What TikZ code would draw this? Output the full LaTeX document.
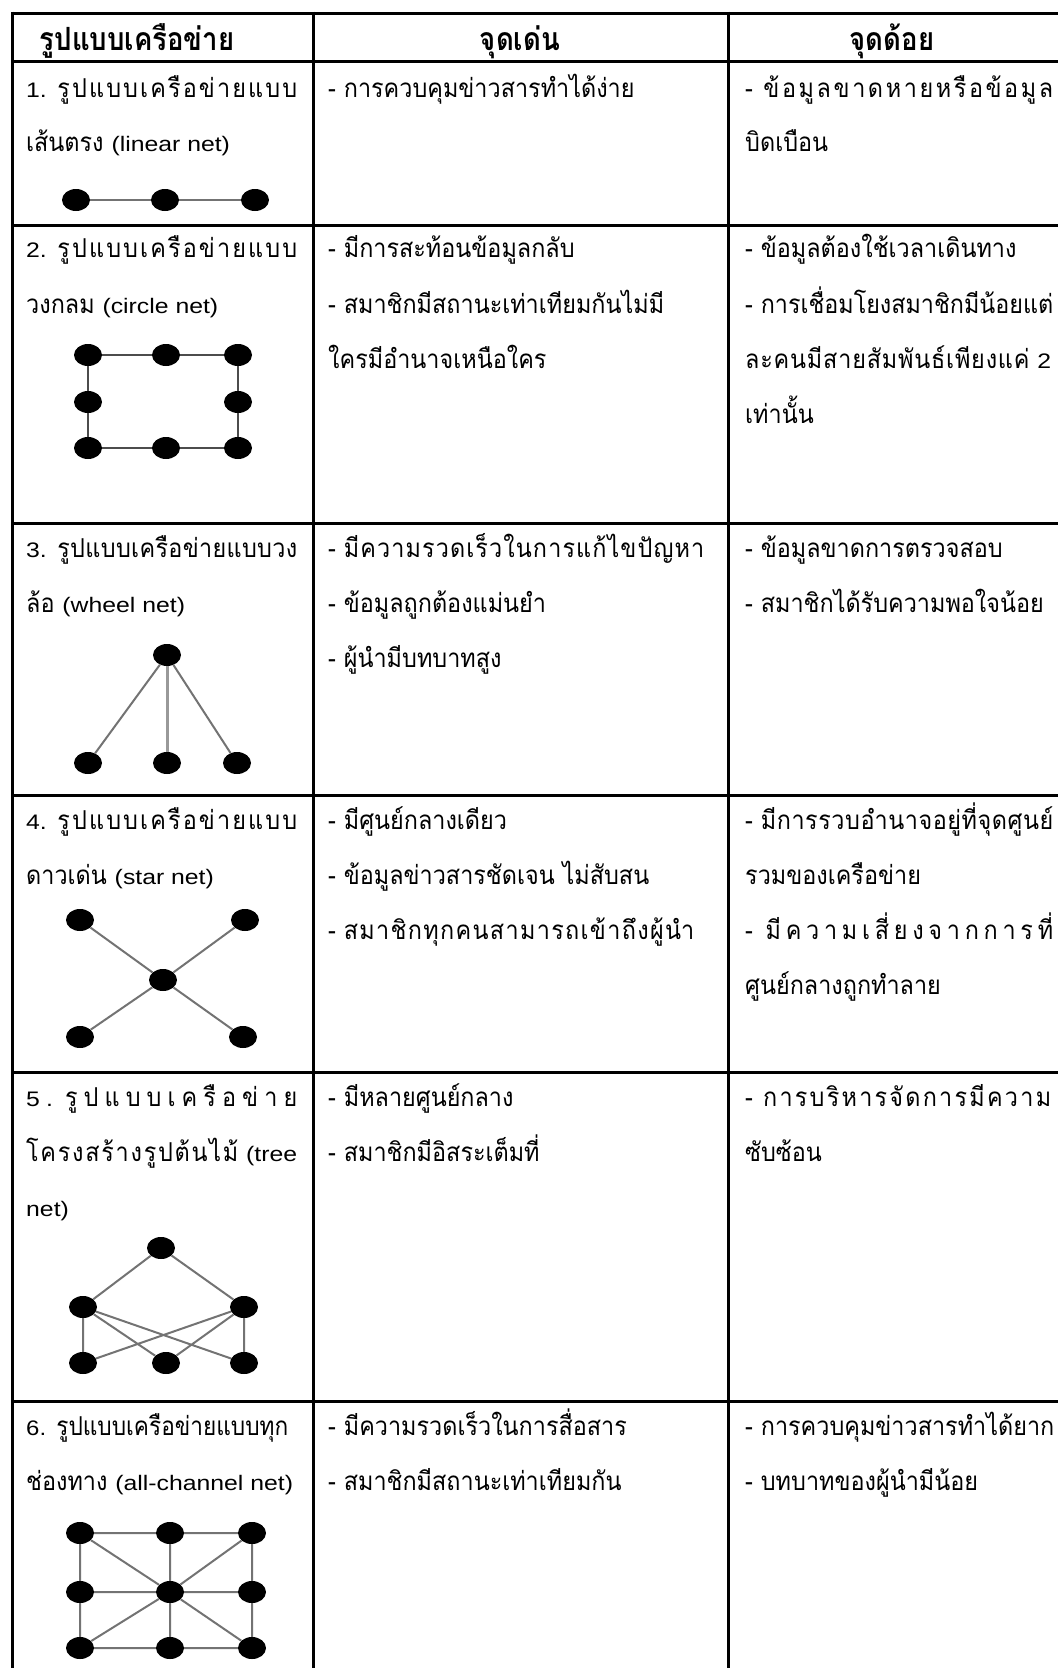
\documentclass[tikz,border=0pt]{standalone}
\usepackage{fontspec}
\usepackage{graphicx}
\usetikzlibrary{shapes.geometric}
\newfontfamily\thai[Script=Thai, FakeStretch=0.9]{Loma}
\newfontfamily\thaihead[Script=Thai, FakeStretch=0.86]{Loma}
\newfontfamily\lat[FakeStretch=1.18]{Liberation Sans}
\newcommand\la[1]{{\lat\fontsize{21}{21}\selectfont #1}}
\newcommand\gp{\hskip 0pt plus 1fil\relax}
% automatic spreading between Thai clusters inside justified boxes
\newXeTeXintercharclass\thbase
\newXeTeXintercharclass\thmark
\newcount\tcnt
\tcnt="0E01
\loop \XeTeXcharclass\tcnt=\thbase \advance\tcnt by 1 \ifnum\tcnt<"0E5C \repeat
\XeTeXcharclass"0E31=\thmark
\XeTeXcharclass"0E33=\thmark
\tcnt="0E34
\loop \XeTeXcharclass\tcnt=\thmark \advance\tcnt by 1 \ifnum\tcnt<"0E3B \repeat
\tcnt="0E47
\loop \XeTeXcharclass\tcnt=\thmark \advance\tcnt by 1 \ifnum\tcnt<"0E4F \repeat
\XeTeXinterchartoks\thbase\thbase={\gp}
\XeTeXinterchartoks\thmark\thbase={\gp}
\newsavebox\jbox
\newcommand\jus[2]{\sbox\jbox{#2}%
  \ifdim\wd\jbox>#1\relax
    \resizebox{#1}{\ht\jbox}{\usebox\jbox}%
  \else
    \makebox[#1][s]{\XeTeXinterchartokenstate=1 #2}%
  \fi}
\tikzset{
  txt/.style={anchor=base west, inner sep=0pt, font=\thai\fontsize{26}{26}\selectfont},
  head/.style={anchor=base, inner sep=0pt, font=\thaihead\bfseries\fontsize{32}{32}\selectfont},
  rule/.style={line width=3pt, black},
  dot/.style={ellipse, fill=black, minimum width=28pt, minimum height=22pt, inner sep=0pt},
  link/.style={draw=black!55, line width=2pt},
}
\begin{document}
\begin{tikzpicture}[x=1pt,y=-1pt]
\useasboundingbox (0,0) rectangle (1058,1668);
% table rules
\draw[rule] (12,13) -- (1058,13);
\draw[rule] (12,61) -- (1058,61);
\foreach \yy in {225,523,795,1072,1401} \draw[rule] (12,\yy) -- (1058,\yy);
\draw[rule] (12,11.5) -- (12,1668);
\draw[rule] (313,11.5) -- (313,1668);
\draw[rule] (728,11.5) -- (728,1668);
% header
\node[head] (h1) at (137,50) {รูปแบบเครือข่าย};
\node[head] (h2) at (520,50) {จุดเด่น};
\node[head] (h3) at (892,50) {จุดด้อย};
% left column
\node[txt] (a1) at (26,97) {\jus{271pt}{\la{1.} รูปแบบเครือข่ายแบบ}};
\node[txt] (a2) at (26,151) {เส้นตรง \la{(linear net)}};
\node[txt] (b1) at (26,257) {\jus{271pt}{\la{2.} รูปแบบเครือข่ายแบบ}};
\node[txt] (b2) at (26,313) {วงกลม \la{(circle net)}};
\node[txt] (c1) at (26,557) {\jus{271pt}{\la{3.} รูปแบบเครือข่ายแบบวง}};
\node[txt] (c2) at (26,612) {ล้อ \la{(wheel net)}};
\node[txt] (d1) at (26,829) {\jus{271pt}{\la{4.} รูปแบบเครือข่ายแบบ}};
\node[txt] (d2) at (26,884) {ดาวเด่น \la{(star net)}};
\node[txt] (e1) at (26,1106) {\jus{271pt}{\la{5}\gp\la{.}\gp\gp รูปแบบเครือข่าย}};
\node[txt] (e2) at (26,1161) {\jus{271pt}{โครงสร้างรูปต้นไม้ \la{(tree}}};
\node[txt] (e3) at (26,1216) {\la{net)}};
\node[txt] (f1) at (26,1435) {\jus{262pt}{\la{6.} รูปแบบเครือข่ายแบบทุก}};
\node[txt] (f2) at (26,1490) {ช่องทาง \la{(all-channel net)}};
% middle column
\node[txt] (m11) at (328,97) {- การควบคุมข่าวสารทำได้ง่าย};
\node[txt] (m21) at (328,257) {- มีการสะท้อนข้อมูลกลับ};
\node[txt] (m22) at (328,313) {- สมาชิกมีสถานะเท่าเทียมกันไม่มี};
\node[txt] (m23) at (328,368) {ใครมีอำนาจเหนือใคร};
\node[txt] (m31) at (328,557) {\jus{376pt}{- มีความรวดเร็วในการแก้ไขปัญหา}};
\node[txt] (m32) at (328,612) {- ข้อมูลถูกต้องแม่นยำ};
\node[txt] (m33) at (328,667) {- ผู้นำมีบทบาทสูง};
\node[txt] (m41) at (328,829) {- มีศูนย์กลางเดียว};
\node[txt] (m42) at (328,884) {- ข้อมูลข่าวสารชัดเจน ไม่สับสน};
\node[txt] (m43) at (328,939) {\jus{366pt}{- สมาชิกทุกคนสามารถเข้าถึงผู้นำ}};
\node[txt] (m51) at (328,1106) {- มีหลายศูนย์กลาง};
\node[txt] (m52) at (328,1161) {- สมาชิกมีอิสระเต็มที่};
\node[txt] (m61) at (328,1435) {- มีความรวดเร็วในการสื่อสาร};
\node[txt] (m62) at (328,1490) {- สมาชิกมีสถานะเท่าเทียมกัน};
% right column
\node[txt] (r11) at (745,97) {\jus{308pt}{-\gp\ ข้อมูลขาดหายหรือข้อมูล}};
\node[txt] (r12) at (745,151) {บิดเบือน};
\node[txt] (r21) at (745,257) {- ข้อมูลต้องใช้เวลาเดินทาง};
\node[txt] (r22) at (745,313) {\jus{308pt}{- การเชื่อมโยงสมาชิกมีน้อยแต่}};
\node[txt] (r23) at (745,368) {\jus{306pt}{ละคนมีสายสัมพันธ์เพียงแค่ \la{2}}};
\node[txt] (r24) at (745,423) {เท่านั้น};
\node[txt] (r31) at (745,557) {- ข้อมูลขาดการตรวจสอบ};
\node[txt] (r32) at (745,612) {- สมาชิกได้รับความพอใจน้อย};
\node[txt] (r41) at (745,829) {\jus{308pt}{- มีการรวบอำนาจอยู่ที่จุดศูนย์}};
\node[txt] (r42) at (745,884) {รวมของเครือข่าย};
\node[txt] (r43) at (745,939) {\jus{308pt}{-\gp\ มีความเสี่ยงจากการที่}};
\node[txt] (r44) at (745,994) {ศูนย์กลางถูกทำลาย};
\node[txt] (r51) at (745,1106) {\jus{306pt}{-\gp\ การบริหารจัดการมีความ}};
\node[txt] (r52) at (745,1161) {ซับซ้อน};
\node[txt] (r61) at (745,1435) {- การควบคุมข่าวสารทำได้ยาก};
\node[txt] (r62) at (745,1490) {- บทบาทของผู้นำมีน้อย};
% 1 linear net
\node[dot] (l1) at (76,200) {};
\node[dot] (l2) at (165,200) {};
\node[dot] (l3) at (255,200) {};
\draw[link] (l1) -- (l2) (l2) -- (l3);
% 2 circle net
\node[dot] (c11) at (88,355) {};
\node[dot] (c12) at (166,355) {};
\node[dot] (c13) at (238,355) {};
\node[dot] (c21) at (88,402) {};
\node[dot] (c23) at (238,402) {};
\node[dot] (c31) at (88,448) {};
\node[dot] (c32) at (166,448) {};
\node[dot] (c33) at (238,448) {};
\draw[link, draw=black!70] (c11) -- (c12) (c12) -- (c13) (c13) -- (c23) (c23) -- (c33)
  (c33) -- (c32) (c32) -- (c31) (c31) -- (c21) (c21) -- (c11);
% 3 wheel net
\node[dot] (w0) at (167,655) {};
\node[dot] (w1) at (88,763) {};
\node[dot] (w2) at (167,763) {};
\node[dot] (w3) at (237,763) {};
\draw[link] (w0) -- (w1) (w0) -- (w3);
\draw[link, line width=3pt, draw=black!40] (w0) -- (w2);
% 4 star net
\node[dot] (s0) at (163,980) {};
\node[dot] (s1) at (80,920) {};
\node[dot] (s2) at (245,920) {};
\node[dot] (s3) at (80,1037) {};
\node[dot] (s4) at (243,1037) {};
\draw[link] (s0) -- (s1) (s0) -- (s2) (s0) -- (s3) (s0) -- (s4);
% 5 tree net
\node[dot] (t0) at (161,1248) {};
\node[dot] (t1) at (83,1307) {};
\node[dot] (t2) at (244,1307) {};
\node[dot] (t3) at (83,1363) {};
\node[dot] (t4) at (166,1363) {};
\node[dot] (t5) at (244,1363) {};
\draw[link] (t0) -- (t1) (t0) -- (t2) (t1) -- (t3) (t2) -- (t5)
  (t1) -- (t4) (t1) -- (t5) (t2) -- (t3) (t2) -- (t4);
% 6 all-channel net
\node[dot] (g11) at (80,1533) {};
\node[dot] (g12) at (170,1533) {};
\node[dot] (g13) at (252,1533) {};
\node[dot] (g21) at (80,1592) {};
\node[dot] (g22) at (170,1592) {};
\node[dot] (g23) at (252,1592) {};
\node[dot] (g31) at (80,1648) {};
\node[dot] (g32) at (170,1648) {};
\node[dot] (g33) at (252,1648) {};
\draw[link] (g11) -- (g12) (g12) -- (g13) (g21) -- (g22) (g22) -- (g23)
  (g31) -- (g32) (g32) -- (g33) (g11) -- (g21) (g21) -- (g31)
  (g12) -- (g22) (g22) -- (g32) (g13) -- (g23) (g23) -- (g33)
  (g22) -- (g11) (g22) -- (g13) (g22) -- (g31) (g22) -- (g33);
\end{tikzpicture}
\end{document}
